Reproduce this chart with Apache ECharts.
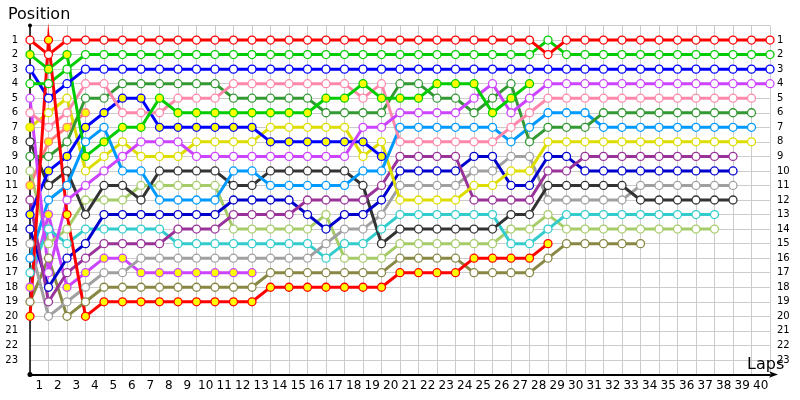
<!DOCTYPE html>
<html>
<head>
<meta charset="utf-8">
<script src="https://cdn.jsdelivr.net/npm/echarts@6/dist/echarts.min.js"></script>
<style>
  html, body { margin: 0; padding: 0; background: #fff; }
  #chart { width: 800px; height: 400px; }
</style>
</head>
<body>
<div id="chart"></div>
<script>
// lap labels under the x axis (one per lap band)
var lapLabels = ['1','2','3','4','5','6','7','8','9','10','11','12','13','14','15','16','17','18','19','20',
                 '21','22','23','24','25','26','27','28','29','30','31','32','33','34','35','36','37','38','39','40'];
// position tick labels
var posLabels = ['1','2','3','4','5','6','7','8','9','10','11','12','13','14','15','16','17','18','19','20','21','22','23'];

// position of each driver per lap (index = lap 0..40), null = not running
var red      = [1,2,1,1,1,1,1,1,1,1, 1,1,1,1,1,1,1,1,1,1, 1,1,1,1,1,1,1,1,2,1, 1,1,1,1,1,1,1,1,1,1, 1];
var green    = [4,4,3,2,2,2,2,2,2,2, 2,2,2,2,2,2,2,2,2,2, 2,2,2,2,2,2,2,2,1,2, 2,2,2,2,2,2,2,2,2,2, 2];
var blue     = [3,5,4,3,3,3,3,3,3,3, 3,3,3,3,3,3,3,3,3,3, 3,3,3,3,3,3,3,3,3,3, 3,3,3,3,3,3,3,3,3,3, 3];
var purple   = [5,17,12,11,10,9,8,8,8,9, 9,9,9,9,9,9,9,9,7,7, 6,6,6,6,5,4,6,5,4,4, 4,4,4,4,4,4,4,4,4,4, 4];
var pink     = [6,7,6,4,4,6,6,6,5,5, 5,4,4,4,4,4,4,4,5,4, 8,8,8,8,8,8,7,6,5,5, 5,5,5,5,5,5,5,5,5,5, null];
var dkgreen  = [9,9,8,5,5,4,4,4,4,4, 4,5,5,5,5,5,6,6,6,6, 4,4,5,5,6,5,4,8,7,7, 7,6,6,6,6,6,6,6,6,6, null];
var ltblue   = [16,12,11,8,7,10,10,12,12,12, 12,10,10,11,11,11,11,11,10,10, 7,7,7,7,7,7,8,7,6,6, 6,7,7,7,7,7,7,7,7,7, null];
var yellow   = [7,6,5,10,9,8,9,9,9,8, 8,8,8,7,7,7,7,7,9,8, 12,12,12,12,11,11,10,10,8,8, 8,8,8,8,8,8,8,8,8,8, null];
var dkpurple = [12,19,17,16,15,15,15,15,14,14, 14,13,13,13,13,12,12,12,12,11, 9,9,9,9,12,12,12,12,10,10, 9,9,9,9,9,9,9,9,9,null, null];
var dkblue   = [14,18,16,15,13,13,13,13,13,13, 13,12,12,12,12,13,14,13,13,12, 10,10,10,10,9,9,11,11,9,9, 10,10,10,10,10,10,10,10,10,null, null];
var gray     = [15,20,19,18,17,17,16,16,16,16, 16,16,16,16,16,16,15,14,14,13, 11,11,11,11,10,10,9,9,12,12, 12,12,12,11,11,11,11,11,11,null, null];
var dkgray   = [8,11,10,13,11,11,12,10,10,10, 10,11,11,10,10,10,10,10,11,15, 14,14,14,14,14,14,13,13,11,11, 11,11,11,12,12,12,12,12,12,null, null];
var cyan     = [17,14,15,14,14,14,14,14,15,15, 15,15,15,15,15,15,16,15,15,14, 13,13,13,13,13,13,15,15,14,13, 13,13,13,13,13,13,13,13,null,null, null];
var ltolive  = [10,15,14,12,12,12,11,11,11,11, 11,14,14,14,14,14,13,16,16,16, 15,15,15,15,15,15,14,14,13,14, 14,14,14,14,14,14,14,14,null,null, null];
var olive    = [19,16,20,19,18,18,18,18,18,18, 18,18,18,17,17,17,17,17,17,17, 16,16,16,16,17,17,17,17,16,15, 15,15,15,15,null,null,null,null,null,null, null];
var lime     = [2,3,2,9,8,7,7,5,6,6, 6,6,6,6,6,6,5,5,4,5, 5,5,4,4,4,6,5,4];
var blueY    = [13,10,9,7,6,5,5,7,7,7, 7,7,7,8,8,8,8,8,8,9];
var violetY  = [18,13,18,17,16,16,17,17,17,17, 17,17,17];
var salmon   = [11,8,7,6];
var red2     = [20,1,13,20,19,19,19,19,19,19, 19,19,19,18,18,18,18,18,18,18, 17,17,17,17,16,16,16,16,15];

function pts(arr) {
  var out = [];
  arr.forEach(function (p, lap) { if (p != null) out.push([lap, p]); });
  return out;
}

var drivers = [
  { d: salmon,   c: '#ff7f7f', fill: '#ffff00' },
  { d: olive,    c: '#888844', fill: '#fff' },
  { d: violetY,  c: '#cc44ff', fill: '#ffff00' },
  { d: ltolive,  c: '#a6cc6a', fill: '#fff' },
  { d: cyan,     c: '#33cccc', fill: '#fff' },
  { d: gray,     c: '#a0a0a0', fill: '#fff' },
  { d: dkgray,   c: '#333333', fill: '#fff' },
  { d: dkblue,   c: '#0000cc', fill: '#fff' },
  { d: dkpurple, c: '#993399', fill: '#fff' },
  { d: yellow,   c: '#dddd00', fill: '#fff', first: '#ffff00' },
  { d: ltblue,   c: '#0099ff', fill: '#fff' },
  { d: blueY,    c: '#0000ff', fill: '#ffff00' },
  { d: dkgreen,  c: '#339933', fill: '#fff' },
  { d: pink,     c: '#ff88aa', fill: '#fff' },
  { d: purple,   c: '#cc44ff', fill: '#fff' },
  { d: lime,     c: '#00cc00', fill: '#ffff00' },
  { d: blue,     c: '#0000ff', fill: '#fff' },
  { d: green,    c: '#00cc00', fill: '#fff' },
  { d: red,      c: '#ff0000', fill: '#fff' },
  { d: red2,     c: '#ff0000', fill: '#ffff00' }
];

var series = drivers.map(function (s) {
  var data = pts(s.d);
  if (s.first) data[0] = { value: data[0], itemStyle: { color: s.first } };
  return {
    type: 'line',
    xAxisIndex: 1,
    data: data,
    clip: false,
    symbol: 'circle',
    symbolSize: 8,
    lineStyle: { color: s.c, width: 3, join: 'miter', miterLimit: 20 },
    itemStyle: { color: s.fill, borderColor: s.c, borderWidth: 1.3 },
    emphasis: { disabled: true }
  };
});

var chart = echarts.init(document.getElementById('chart'));
var labelFont = { fontFamily: 'DejaVu Sans', fontSize: 10, color: '#000' };

chart.setOption({
  animation: false,
  title: [
    { text: 'Position', left: 3, top: 2, textStyle: { fontFamily: 'DejaVu Sans', fontSize: 16, fontWeight: 'normal', color: '#000' } },
    { text: 'Laps', left: 742, top: 352, textStyle: { fontFamily: 'DejaVu Sans', fontSize: 16, fontWeight: 'normal', color: '#000' } }
  ],
  grid: { left: 30, right: 30, top: 25.5, bottom: 25.5 },
  xAxis: [
    {
      type: 'category', data: lapLabels, boundaryGap: true, position: 'bottom',
      axisLine: { show: true, onZero: false, lineStyle: { color: '#000', width: 2 }, symbol: ['circle', 'arrow'], symbolSize: [5, 9], symbolOffset: [0, 8] },
      axisTick: { show: false },
      axisLabel: { fontFamily: 'DejaVu Sans', fontSize: 12, color: '#000', margin: 5, interval: 0 },
      splitLine: { show: false }
    },
    {
      type: 'value', min: 0, max: 40, interval: 1, position: 'bottom',
      axisLine: { show: false },
      axisTick: { show: false },
      axisLabel: { show: false },
      splitLine: { show: true, lineStyle: { color: '#cccccc', width: 1 } }
    }
  ],
  yAxis: [
    {
      type: 'value', inverse: true, min: 0, max: 24, interval: 1,
      axisLine: { onZero: false, lineStyle: { color: '#000', width: 1.5 }, symbol: ['circle', 'circle'], symbolSize: [4, 4] },
      axisTick: { show: false },
      axisLabel: Object.assign({ margin: 12, formatter: function (v) { return (v >= 1 && v <= 23) ? posLabels[v - 1] : ''; } }, labelFont),
      splitLine: { lineStyle: { color: '#cccccc', width: 1 } }
    },
    {
      type: 'value', inverse: true, min: 0, max: 24, interval: 1, position: 'right',
      axisLine: { show: false }, axisTick: { show: false },
      axisLabel: Object.assign({ margin: 7, formatter: function (v) { return (v >= 1 && v <= 23) ? posLabels[v - 1] : ''; } }, labelFont),
      splitLine: { show: false }
    }
  ],
  series: series
});
</script>
</body>
</html>
